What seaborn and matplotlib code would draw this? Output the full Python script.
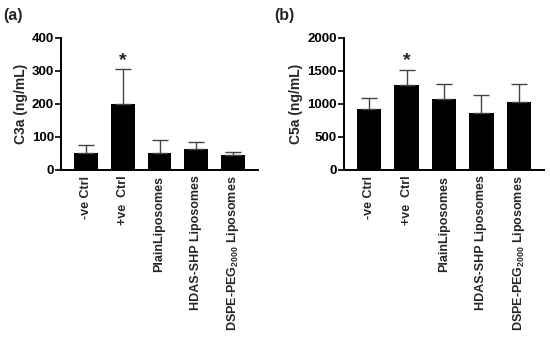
import matplotlib
matplotlib.use("Agg")
import matplotlib.pyplot as plt
import seaborn as sns
import pandas as pd
import numpy as np

categories = ["-ve Ctrl", "+ve  Ctrl", "PlainLiposomes", "HDAS-SHP Liposomes",
              r"DSPE-PEG$_{\mathbf{2000}}$ Liposomes"]
c3a_mean = [52, 200, 52, 62, 45]
c3a_err = [25, 104, 38, 24, 8]
c5a_mean = [928, 1292, 1068, 864, 1030]
c5a_err = [162, 226, 228, 276, 266]
c3a_ticks = [0, 100, 200, 300, 400]
c5a_ticks = [0, 500, 1000, 1500, 2000]

sns.set_style("white")
plt.rcParams["font.family"] = ["Liberation Sans", "DejaVu Sans"]
plt.rcParams["font.weight"] = "bold"
plt.rcParams["mathtext.fontset"] = "custom"
plt.rcParams["mathtext.bf"] = "Liberation Sans:bold"
plt.rcParams["mathtext.rm"] = "Liberation Sans:bold"
plt.rcParams["mathtext.default"] = "bf"

fig = plt.figure(figsize=(5.5, 3.4), dpi=100)
ax1 = fig.add_axes([0.111, 0.5, 0.358, 0.389])
ax2 = fig.add_axes([0.6255, 0.5, 0.3636, 0.389])

panels = [
    (ax1, c3a_mean, c3a_err, c3a_ticks, "C3a (ng/mL)", "(a)", 0.006),
    (ax2, c5a_mean, c5a_err, c5a_ticks, "C5a (ng/mL)", "(b)", 0.499),
]

for ax, mean, err, ticks, ylabel, tag, tx in panels:
    df = pd.DataFrame({"cat": categories, "val": mean})
    sns.barplot(data=df, x="cat", y="val", color="black", width=0.65,
                errorbar=None, ax=ax, saturation=1, linewidth=0)
    x = np.arange(len(categories))
    ax.errorbar(x, mean, yerr=[np.zeros(len(err)), err], fmt="none",
                ecolor="#444444", elinewidth=1.0, capsize=5.5, capthick=1.0)
    top = mean[1] + err[1]
    ax.text(1, top + ticks[-1] * 0.005, "*", ha="center", va="bottom",
            fontsize=14, fontweight="bold")
    ax.set_xlim(-0.67, 4.67)
    ax.set_ylim(ticks[0], ticks[-1])
    ax.set_yticks(ticks)
    ax.set_yticklabels([str(t) for t in ticks], fontsize=9.5, fontweight="bold")
    ax.set_xticks(x)
    ax.set_xticklabels(categories, rotation=90, fontsize=9, fontweight="bold")
    ax.set_xlabel("")
    ax.set_ylabel(ylabel, fontsize=10, fontweight="bold", labelpad=3)
    for s in ["top", "right"]:
        ax.spines[s].set_visible(False)
    for s in ["left", "bottom"]:
        ax.spines[s].set_linewidth(1.4)
        ax.spines[s].set_color("black")
    ax.tick_params(axis="y", direction="out", length=4, width=1.2, pad=1,
                   left=True, colors="black")
    ax.tick_params(axis="x", length=0, pad=4)
    fig.text(tx, 0.955, tag, fontsize=11.5, fontweight="bold", ha="left", va="center")

fig.savefig("out.png", dpi=100)
